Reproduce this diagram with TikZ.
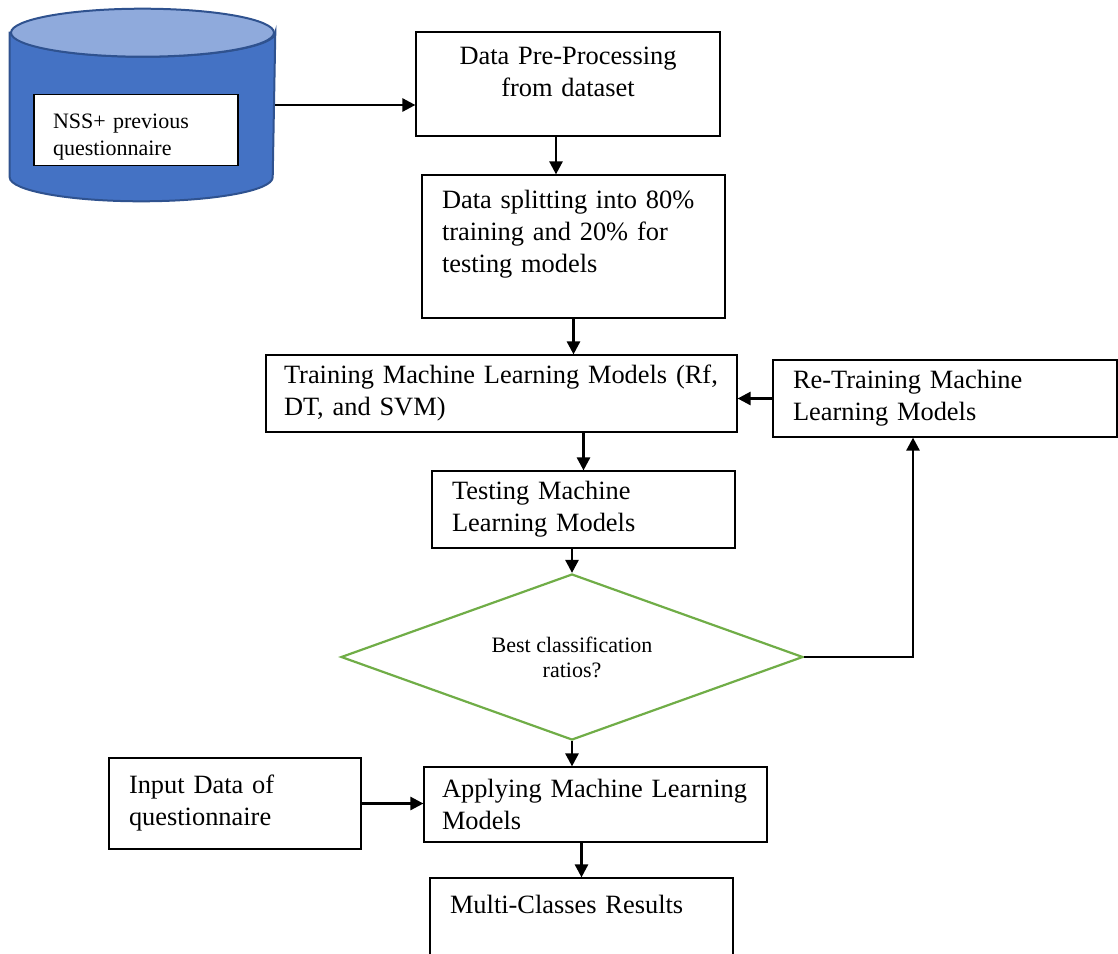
\documentclass[tikz,border=0pt]{standalone}
\usepackage{fontspec}
\setmainfont{Liberation Serif}
\usepackage{tikz}
\usetikzlibrary{arrows.meta,positioning,shapes.geometric}

\definecolor{dbbody}{RGB}{68,114,196}
\definecolor{dbtop}{RGB}{143,170,220}
\definecolor{dbline}{RGB}{47,82,143}
\definecolor{decgreen}{RGB}{112,173,71}
\newcommand{\lowpad}[1]{\rule[-#1]{0pt}{#1}}
\newcommand{\toppad}[1]{\rule{0pt}{#1}}

\begin{document}
\begin{tikzpicture}[x=0.5pt,y=-0.5pt,->,>={Triangle[length=6.5pt,width=6.5pt]},
line width=1.3pt]

\tikzstyle{box}=[draw,line width=0.6pt,rectangle,align=left,inner xsep=10pt,
  inner ysep=3pt,font=\fontsize{13.2}{16}\selectfont]
\tikzstyle{decision}=[diamond,draw=decgreen,line width=1.1pt,aspect=2.78,
  minimum width=231pt,minimum height=83pt,inner sep=0pt,align=center,
  font=\fontsize{11}{12.5}\selectfont]
\tikzstyle{dbside}=[-,draw=dbline,line width=1pt]

\useasboundingbox (0,0) rectangle (1118,953);

% database drum
\node[minimum width=131.5pt,minimum height=95pt,inner sep=0pt] (db) at (142.5,105) {};
\draw[dbside,fill=dbbody] ([yshift=-12pt]db.north west) -- ([yshift=12pt]db.south west)
  arc[start angle=180,end angle=360,x radius=65.75pt,y radius=12pt]
  -- ([yshift=-12pt]db.north east)
  arc[start angle=0,end angle=-180,x radius=65.75pt,y radius=12pt] -- cycle;
\draw[dbside,fill=dbtop] ([yshift=-12pt]db.north) ellipse[x radius=65.75pt,y radius=12pt];
\node[box,fill=white,text width=83pt,inner xsep=9.5pt,minimum height=33pt,
  font=\fontsize{11}{13.5}\selectfont] (nss) at (136,130) {\toppad{14pt}NSS+ previous\\questionnaire};

\node[box,align=center,text width=132pt,minimum height=52pt] (pre) at (568,84)
  {Data Pre-Processing\\from dataset\lowpad{12.5pt}};
\node[box,text width=131.5pt,minimum height=71.5pt] (split) at (573.5,246.5)
  {Data splitting into 80\%\\training and 20\% for\\testing models\lowpad{15pt}};
\node[box,text width=217.5pt,inner xsep=9pt,minimum height=38.5pt] (train) at (501.5,393.5)
  {Training Machine Learning Models (Rf,\\DT, and SVM)};
\node[box,text width=152pt,minimum height=38.5pt] (retrain) at (945,398.5)
  {Re-Training Machine\\Learning Models};
\node[box,text width=131.5pt,minimum height=38.5pt] (test) at (583.5,509.5)
  {Testing Machine\\Learning Models};
\node[decision] (dia) at (572,657) {Best classification\\ratios?};
\node[box,text width=106pt,minimum height=45.5pt] (input) at (235,803.5)
  {Input Data of\\questionnaire};
\node[box,text width=153.5pt,inner xsep=9pt,minimum height=37.5pt] (apply) at (595.5,804.5)
  {Applying Machine Learning\\Models};
\node[box,text width=131.5pt,minimum height=55pt] (multi) at (581.5,933)
  {Multi-Classes Results\lowpad{28.5pt}};

\path (db.east) edge (db.east -| pre.west)
      ([xshift=-6pt]pre.south) edge ([xshift=-6pt]pre.south |- split.north)
      (split.south) edge (split.south |- train.north)
      (train.south -| test.north) edge (test.north)
      (test.south -| dia.north) edge (dia.north)
      (retrain.west) edge (retrain.west -| train.east)
      (dia.south) edge (dia.south |- apply.north)
      (input.east) edge (input.east -| apply.west)
      (apply.south -| multi.north) edge (multi.north);
\draw (dia.east) -| ([xshift=-16pt]retrain.south);
\end{tikzpicture}
\end{document}
